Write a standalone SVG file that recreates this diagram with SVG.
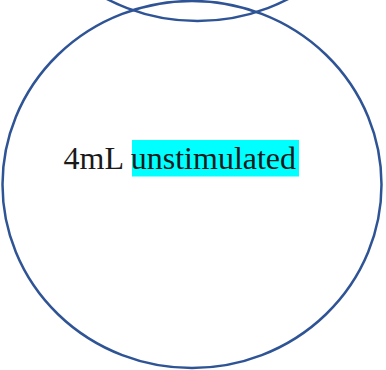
<svg xmlns="http://www.w3.org/2000/svg" width="386" height="370" viewBox="0 0 386 370">
<style>
.ring{fill:none;stroke:#2F5496;stroke-width:2.5}
.lbl{font-family:"Liberation Serif","Times New Roman",serif;font-size:32px;fill:#1a1a1a}
</style>
<rect width="386" height="370" fill="#ffffff"/>
<g id="top-ellipse"><ellipse class="ring" cx="197.5" cy="-163" rx="191" ry="184"/></g>
<g id="main-ellipse"><ellipse class="ring" cx="192" cy="184.5" rx="189.5" ry="183.5"/></g>
<g id="connectors"></g>
<g id="label">
<rect x="132" y="140" width="167" height="36.5" fill="#00FFFF"/>
<text class="lbl" x="63.5" y="169">4mL unstimulated</text>
</g>
</svg>
